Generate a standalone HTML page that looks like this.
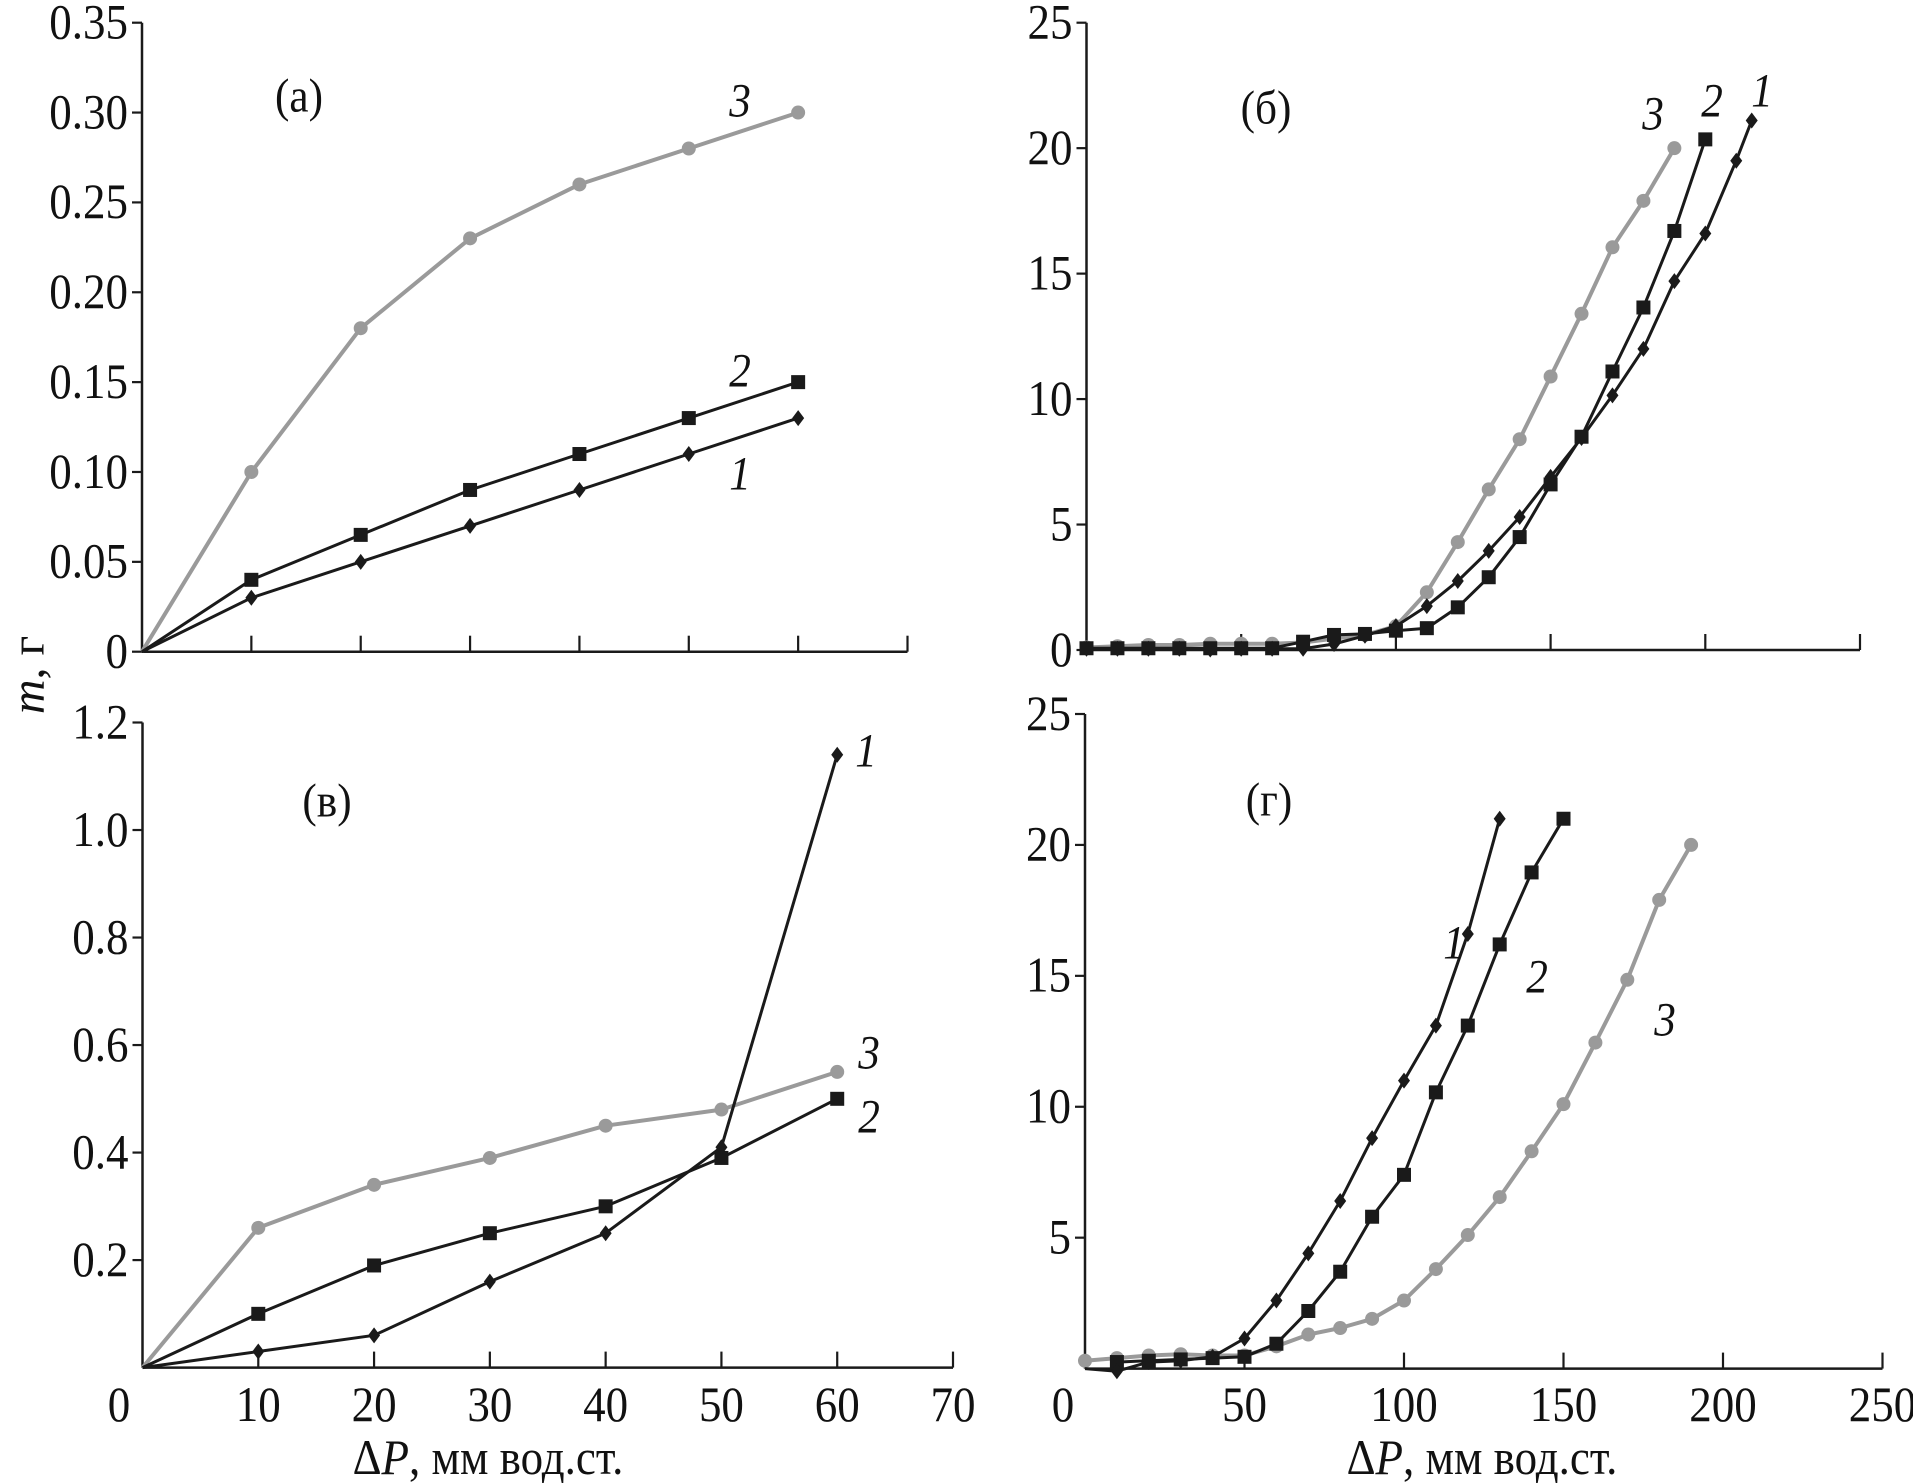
<!DOCTYPE html>
<html><head><meta charset="utf-8">
<style>
html,body{margin:0;padding:0;background:#fff;}
svg{display:block;}
text{font-family:"Liberation Serif","DejaVu Serif",serif;fill:#111;}
</style></head>
<body>
<svg id="chart" width="1913" height="1483" viewBox="0 0 1913 1483" xmlns="http://www.w3.org/2000/svg"></svg>
<script>
// ---- Panel (a) data ----
const aX = [0,10,20,30,40,50,60];
const aS1 = [0,0.03,0.05,0.07,0.09,0.11,0.13];
const aS2 = [0,0.04,0.065,0.09,0.11,0.13,0.15];
const aS3 = [0,0.10,0.18,0.23,0.26,0.28,0.30];
const aYTicks = ["0","0.05","0.10","0.15","0.20","0.25","0.30","0.35"];
// ---- Panel (б) data ----
const bX1 = [0,10,20,30,40,50,60,70,80,90,100,110,120,130,140,150,160,170,180,190,200,210,215];
const bS1 = [0.05,0.05,0.05,0.05,0.02,0.05,0.05,0.05,0.24,0.57,0.95,1.75,2.75,3.95,5.3,6.9,8.45,10.15,12.0,14.7,16.6,19.5,21.1];
const bX2 = [0,10,20,30,40,50,60,70,80,90,100,110,120,130,140,150,160,170,180,190,200];
const bS2 = [0.07,0.07,0.07,0.07,0.07,0.07,0.07,0.33,0.6,0.64,0.77,0.87,1.7,2.9,4.5,6.6,8.5,11.1,13.65,16.7,20.35];
const bX3 = [0,10,20,30,40,50,60,70,80,90,100,110,120,130,140,150,160,170,180,190];
const bS3 = [0.1,0.15,0.2,0.2,0.25,0.25,0.25,0.3,0.45,0.6,0.95,2.3,4.3,6.4,8.4,10.9,13.4,16.05,17.9,20.0];
const bYTicks = ["0","5","10","15","20","25"];
// ---- Panel (в) data ----
const cX = [0,10,20,30,40,50,60];
const cS1 = [0,0.03,0.06,0.16,0.25,0.41,1.14];
const cS2 = [0,0.10,0.19,0.25,0.30,0.39,0.50];
const cS3 = [0,0.26,0.34,0.39,0.45,0.48,0.55];
const cYTicks = ["0.2","0.4","0.6","0.8","1.0","1.2"];
const cXTicks = ["0","10","20","30","40","50","60","70"];
// ---- Panel (г) data ----
const dX1 = [0,10,20,30,40,50,60,70,80,90,100,110,120,130];
const dS1 = [0,-0.1,0.25,0.3,0.45,1.15,2.6,4.4,6.4,8.8,11.0,13.1,16.6,21.0];
const dX2 = [10,20,30,40,50,60,70,80,90,100,110,120,130,140,150];
const dS2 = [0.25,0.3,0.35,0.4,0.45,0.95,2.2,3.7,5.8,7.4,10.55,13.1,16.2,18.95,21.0];
const dX3 = [0,10,20,30,40,50,60,70,80,90,100,110,120,130,140,150,160,170,180,190];
const dS3 = [0.3,0.4,0.5,0.55,0.5,0.5,0.85,1.3,1.55,1.9,2.6,3.8,5.1,6.55,8.3,10.1,12.45,14.85,17.9,20.0];
const dYTicks = ["5","10","15","20","25"];
const dXTicks = ["0","50","100","150","200","250"];

const NS = "http://www.w3.org/2000/svg";
const svg = document.getElementById('chart');
function mk(tag, attrs, parent){
  const e = document.createElementNS(NS, tag);
  for (const k in attrs) e.setAttribute(k, attrs[k]);
  (parent||svg).appendChild(e);
  return e;
}
function txt(s, x, y, size, anchor, italic, parent){
  const g = mk('g', {transform:`translate(${x},${y}) scale(0.9,1)`}, parent);
  const t = mk('text', {x:0, y:0, 'font-size':size, 'text-anchor':anchor||'middle', 'dominant-baseline':'central'}, g);
  if (italic) t.setAttribute('font-style','italic');
  t.textContent = s;
  return t;
}
function scale(d0,d1,p0,p1){ return v => p0 + (v-d0)*(p1-p0)/(d1-d0); }

function series(g, xs, ys, sx, sy, color, width, marker, name, skipOrigin){
  const sg = mk('g', {}, g);
  
  
  const pts = xs.map((x,i)=>sx(x).toFixed(1)+','+sy(ys[i]).toFixed(1)).join(' ');
  const pl = mk('polyline', {points:pts, fill:'none', stroke:color, 'stroke-width':width, 'stroke-linejoin':'round'}, sg);
  
  
  xs.forEach((x,i)=>{
    if (skipOrigin && x===0) return;
    const px = sx(x), py = sy(ys[i]);
    let m;
    if (marker==='circle') m = mk('circle', {cx:px, cy:py, r:7, fill:color}, sg);
    else if (marker==='square') m = mk('rect', {x:px-7, y:py-7, width:14, height:14, fill:color}, sg);
    else m = mk('polygon', {points:`${px},${py-8} ${px+6},${py} ${px},${py+8} ${px-6},${py}`, fill:color}, sg);
    
    
  });
}

const BLACK = '#1a1a1a', GRAY = '#9a9a9a';

function axes(g, x0, x1, yTop, yBot, xTickPx, yTickPx, yLabels, yLabelPx){
  mk('line', {x1:x0, y1:yTop, x2:x0, y2:yBot, stroke:BLACK, 'stroke-width':2.5}, g);
  mk('line', {x1:x0, y1:yBot, x2:x1, y2:yBot, stroke:BLACK, 'stroke-width':2.5}, g);
  xTickPx.forEach(px=>{ mk('line',{x1:px,y1:yBot,x2:px,y2:yBot-16,stroke:BLACK,'stroke-width':2.2},g); });
  yTickPx.forEach(py=>{ mk('line',{x1:x0-10,y1:py,x2:x0,y2:py,stroke:BLACK,'stroke-width':2.2},g); });
  yLabels.forEach((s,i)=>{
    const t = txt(s, x0-14, yLabelPx[i], 50, 'end', false, g);
    
    
  });
}

// ---- Panel (a) ----
(function(){
  const g = mk('g', {});  
  const sx = scale(0,70,142,907.5), sy = scale(0,0.35,651.7,22.7);
  const xt = [10,20,30,40,50,60,70].map(sx);
  const yt = aYTicks.map(s=>sy(parseFloat(s)));
  axes(g, 142, 907.5, 22.7, 651.7, xt, yt, aYTicks, yt);
  series(g, aX, aS3, sx, sy, GRAY, 4, 'circle', 'series-3-a', true);
  series(g, aX, aS2, sx, sy, BLACK, 3, 'square', 'series-2-a', true);
  series(g, aX, aS1, sx, sy, BLACK, 3, 'diamond', 'series-1-a', true);
  txt('(a)', 299, 95, 48, 'middle', false, g);
  txt('3', 740, 100, 48, 'middle', true, g);
  txt('2', 740, 370, 48, 'middle', true, g);
  txt('1', 740, 473, 48, 'middle', true, g);
})();

// ---- Panel (б) ----
(function(){
  const g = mk('g', {});  
  const sx = scale(0,250,1086.5,1860), sy = scale(0,25,650,22.7);
  const xt = [50,100,150,200,250].map(sx);
  const yt = bYTicks.map(s=>sy(parseFloat(s)));
  axes(g, 1086.5, 1860, 22.7, 650, xt, yt, bYTicks, yt);
  series(g, bX3, bS3, sx, sy, GRAY, 4, 'circle', 'series-3-b', false);
  series(g, bX1, bS1, sx, sy, BLACK, 3, 'diamond', 'series-1-b', false);
  series(g, bX2, bS2, sx, sy, BLACK, 3, 'square', 'series-2-b', false);
  txt('(б)', 1266, 107, 48, 'middle', false, g);
  txt('3', 1653, 113, 48, 'middle', true, g);
  txt('2', 1712, 100, 48, 'middle', true, g);
  txt('1', 1762, 90, 48, 'middle', true, g);
})();

// ---- Panel (в) ----
(function(){
  const g = mk('g', {});  
  const sx = scale(0,70,142.5,953), sy = scale(0,1.2,1367.6,722.5);
  const xt = [10,20,30,40,50,60,70].map(sx);
  const yt = cYTicks.map(s=>sy(parseFloat(s)));
  axes(g, 142.5, 953, 722.5, 1367.6, xt, yt, cYTicks, yt);
  cXTicks.forEach((s,i)=>{
    const v = parseFloat(s);
    const t = txt(s, v===0 ? 119 : sx(v), 1405, 50, 'middle', false, g);
    
    
  });
  series(g, cX, cS3, sx, sy, GRAY, 4, 'circle', 'series-3-c', true);
  series(g, cX, cS2, sx, sy, BLACK, 3, 'square', 'series-2-c', true);
  series(g, cX, cS1, sx, sy, BLACK, 3, 'diamond', 'series-1-c', true);
  txt('(в)', 327, 800, 48, 'middle', false, g);
  txt('1', 866, 750, 48, 'middle', true, g);
  txt('3', 869, 1052, 48, 'middle', true, g);
  txt('2', 869, 1116, 48, 'middle', true, g);
  const xt2 = txt('', 488, 1458, 50, 'middle', false, g);
  xt2.innerHTML = 'Δ<tspan font-style="italic">P</tspan>, мм вод.ст.';
  
  
})();

// ---- Panel (г) ----
(function(){
  const g = mk('g', {});  
  const sx = scale(0,250,1085,1882.5), sy = scale(0,25,1368.6,714);
  const xt = [50,100,150,200,250].map(sx);
  const yt = dYTicks.map(s=>sy(parseFloat(s)));
  axes(g, 1085, 1882.5, 714, 1368.6, xt, yt, dYTicks, yt);
  dXTicks.forEach((s,i)=>{
    const v = parseFloat(s);
    const t = txt(s, v===0 ? 1063 : sx(v), 1405, 50, 'middle', false, g);
    
    
  });
  series(g, dX3, dS3, sx, sy, GRAY, 4, 'circle', 'series-3-d', false);
  series(g, dX2, dS2, sx, sy, BLACK, 3, 'square', 'series-2-d', false);
  series(g, dX1, dS1, sx, sy, BLACK, 3, 'diamond', 'series-1-d', true);
  txt('(г)', 1269, 799, 48, 'middle', false, g);
  txt('1', 1454, 942, 48, 'middle', true, g);
  txt('2', 1537, 976, 48, 'middle', true, g);
  txt('3', 1665, 1019, 48, 'middle', true, g);
  const xt2 = txt('', 1482, 1458, 50, 'middle', false, g);
  xt2.innerHTML = 'Δ<tspan font-style="italic">P</tspan>, мм вод.ст.';
  
  
})();

// ---- shared y-axis title ----
(function(){
  const t = mk('text', {x:0, y:0, 'font-size':48, 'text-anchor':'middle', 'dominant-baseline':'central', transform:'translate(28,675) rotate(-90)'});
  t.innerHTML = '<tspan font-style="italic">m</tspan>, г';
  
  
})();
</script>
</body></html>
